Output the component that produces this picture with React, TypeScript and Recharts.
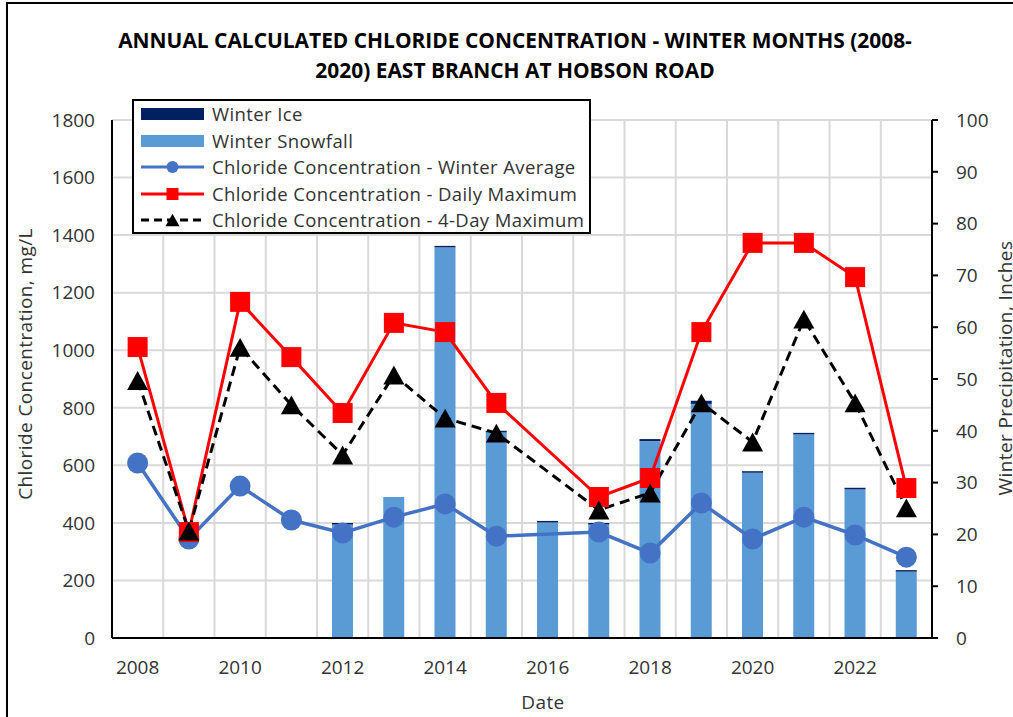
import React, { useLayoutEffect, useRef, useState } from 'react';
import { ComposedChart, Bar, Line, XAxis, YAxis, CartesianGrid, Legend } from 'recharts';

const FONT = '"Open Sans", sans-serif';
const TEXT = '#333333';

const years = ['2008', '2009', '2010', '2011', '2012', '2013', '2014', '2015', '2016', '2017', '2018', '2019', '2020', '2021', '2022', '2023'];
// precipitation, inches (right axis)
const winterIce = [null, null, null, null, 0.3, 0, 0.3, 0.3, 0.3, 0.3, 0.4, 0.6, 0.3, 0.3, 0.3, 0.3];
const winterSnowfall = [null, null, null, null, 21.9, 27.2, 75.4, 39.7, 22.3, 21.9, 38.0, 45.2, 31.9, 39.3, 28.7, 12.8];
// chloride, mg/L (left axis)
const winterAverage = [608, 344, 528, 410, 365, 420, 466, 354, null, 368, 295, 469, 344, 420, 358, 281];
const dailyMax = [1011, 368, 1168, 976, 782, 1095, 1063, 817, null, 490, 556, 1063, 1373, 1373, 1254, 521];
const fourDayMax = [895, 372, 1010, 810, 636, 914, 764, 712, null, 445, 504, 817, 681, 1108, 817, 452];

const leftTicks = [0, 200, 400, 600, 800, 1000, 1200, 1400, 1600, 1800];
const rightTicks = [0, 10, 20, 30, 40, 50, 60, 70, 80, 90, 100];

const data = years.map((year, i) => ({
  year,
  snow: winterSnowfall[i],
  ice: winterIce[i],
  avg: winterAverage[i],
  daily: dailyMax[i],
  fourDay: fourDayMax[i],
}));

const series = [
  { key: 'ice', name: 'Winter Ice', color: '#002060', kind: 'bar' },
  { key: 'snow', name: 'Winter Snowfall', color: '#5B9BD5', kind: 'bar' },
  { key: 'avg', name: 'Chloride Concentration - Winter Average', color: '#4472C4', kind: 'circle' },
  { key: 'daily', name: 'Chloride Concentration - Daily Maximum', color: '#FF0000', kind: 'square' },
  { key: 'fourDay', name: 'Chloride Concentration - 4-Day Maximum', color: '#000000', kind: 'triangle' },
];
const nameOf = (k: string) => series.find((s) => s.key === k)!.name;

const tickStyle = { fill: TEXT, fontSize: 19, fontFamily: FONT };
const axisTitleStyle = { fontFamily: FONT, fontSize: 19, letterSpacing: 0.4, fill: TEXT };

function marker(kind: string, color: string, cx: number, cy: number, s: number) {
  if (kind === 'circle') return <circle cx={cx} cy={cy} r={s / 2} fill={color} />;
  if (kind === 'square') return <rect x={cx - s / 2} y={cy - s / 2} width={s} height={s} fill={color} />;
  const h = s * 0.9;
  return <polygon points={`${cx},${cy - h / 2} ${cx + s / 2},${cy + h / 2} ${cx - s / 2},${cy + h / 2}`} fill={color} />;
}

const makeDot = (kind: string, color: string, size: number) => (p: any) => {
  if (p.cx == null || p.cy == null || p.value == null) return <g key={`e-${kind}-${p.index}`} />;
  return <g key={`d-${kind}-${p.index}`}>{marker(kind, color, p.cx, p.cy, size)}</g>;
};

function LegendBox() {
  return (
    <div style={{ width: 459, height: 135, boxSizing: 'border-box', border: '2px solid #000', background: '#fff', fontFamily: FONT, fontSize: 18.5, letterSpacing: 0.4, color: TEXT }}>
      {series.map((s) => (
        <div key={s.key} style={{ display: 'flex', alignItems: 'center', height: 26.5 }}>
          <svg width={63} height={22} style={{ marginLeft: 7, flex: 'none' }}>
            {s.kind === 'bar' ? (
              <rect x={0} y={5} width={63} height={12} fill={s.color} />
            ) : (
              <g>
                <line x1={0} x2={63} y1={11} y2={11} stroke={s.color} strokeWidth={3} strokeDasharray={s.kind === 'triangle' ? '8 5' : undefined} />
                {marker(s.kind, s.color, 31.5, 11, s.kind === 'triangle' ? 14 : 12)}
              </g>
            )}
          </svg>
          <span style={{ marginLeft: 8, whiteSpace: 'nowrap', lineHeight: '20px' }}>{s.name}</span>
        </div>
      ))}
    </div>
  );
}

function Titles() {
  const ref = useRef<SVGTextElement>(null);
  const [k, setK] = useState(1);
  useLayoutEffect(() => {
    if (ref.current) {
      const w = ref.current.getComputedTextLength();
      if (w > 0) setK(794 / w);
    }
  }, []);
  const titleStyle = { fontFamily: FONT, fontWeight: 700, fontSize: 21, fill: '#000' };
  return (
    <svg width={1013} height={717} style={{ position: 'fixed', left: 0, top: 0, pointerEvents: 'none' }}>
      <g transform={`translate(515,48) scale(${k},1)`}>
        <text ref={ref} textAnchor="middle" style={titleStyle}>ANNUAL CALCULATED CHLORIDE CONCENTRATION - WINTER MONTHS (2008-</text>
      </g>
      <g transform={`translate(515,78) scale(${k},1)`}>
        <text textAnchor="middle" style={titleStyle}>2020) EAST BRANCH AT HOBSON ROAD</text>
      </g>
      <text transform="translate(32,364) rotate(-90)" textAnchor="middle" style={axisTitleStyle}>
        Chloride Concentration, mg/L
      </text>
      <text transform="translate(1012,368) rotate(-90)" textAnchor="middle" style={axisTitleStyle}>
        Winter Precipitation, Inches
      </text>
      <text x={543} y={709} textAnchor="middle" style={axisTitleStyle}>
        Date
      </text>
    </svg>
  );
}

export default function App() {
  return (
    <div style={{ position: 'fixed', inset: 0, overflow: 'hidden', background: '#fff' }}>
      <div style={{ position: 'fixed', left: 6, top: 2, width: 1100, height: 800, border: '2px solid #000' }} />
      <div style={{ position: 'fixed', left: 0, top: 0 }}>
        <ComposedChart width={1013} height={717} data={data} margin={{ top: 120, right: 21, bottom: 49, left: 52 }}>
          <CartesianGrid
            yAxisId="left"
            stroke="#d9d9d9"
            strokeWidth={2}
            verticalCoordinatesGenerator={({ offset }: any) =>
              Array.from({ length: years.length + 1 }, (_, i) => offset.left + (i * offset.width) / years.length)
            }
          />
          <XAxis
            dataKey="year"
            interval={1}
            height={30}
            axisLine={{ stroke: '#000', strokeWidth: 2 }}
            tickLine={false}
            tickSize={0}
            tickMargin={23}
            tick={tickStyle}
          />
          <XAxis xAxisId="top" orientation="top" dataKey="year" height={0} tick={false} tickLine={false} axisLine={{ stroke: '#000', strokeWidth: 2 }} />
          <YAxis
            yAxisId="left"
            domain={[0, 1800]}
            ticks={leftTicks}
            width={60}
            axisLine={{ stroke: '#000', strokeWidth: 2 }}
            tickLine={false}
            tickSize={0}
            tickMargin={17}
            tick={tickStyle}
          />
          <YAxis
            yAxisId="right"
            orientation="right"
            domain={[0, 100]}
            ticks={rightTicks}
            width={60}
            axisLine={{ stroke: '#000', strokeWidth: 2 }}
            tickLine={{ stroke: '#000', strokeWidth: 2 }}
            tickSize={6}
            tickMargin={18}
            tick={tickStyle}
          />
          <Bar yAxisId="right" dataKey="snow" name={nameOf('snow')} stackId="p" fill="#5B9BD5" barSize={21} isAnimationActive={false} />
          <Bar yAxisId="right" dataKey="ice" name={nameOf('ice')} stackId="p" fill="#002060" barSize={21} isAnimationActive={false} />
          <Line
            yAxisId="left"
            dataKey="avg"
            name={nameOf('avg')}
            stroke="#4472C4"
            strokeWidth={3.5}
            connectNulls
            dot={makeDot('circle', '#4472C4', 21)}
            activeDot={false}
            isAnimationActive={false}
          />
          <Line
            yAxisId="left"
            dataKey="daily"
            name={nameOf('daily')}
            stroke="#FF0000"
            strokeWidth={3}
            connectNulls
            dot={makeDot('square', '#FF0000', 20)}
            activeDot={false}
            isAnimationActive={false}
          />
          <Line
            yAxisId="left"
            dataKey="fourDay"
            name={nameOf('fourDay')}
            stroke="#000000"
            strokeWidth={3}
            strokeDasharray="10 6"
            connectNulls
            dot={makeDot('triangle', '#000000', 21)}
            activeDot={false}
            isAnimationActive={false}
          />
          <Legend
            layout="vertical"
            align="center"
            verticalAlign="middle"
            wrapperStyle={{ left: 132, top: 99, width: 459, height: 135 }}
            content={() => <LegendBox />}
          />
        </ComposedChart>
      </div>
      <Titles />
    </div>
  );
}
